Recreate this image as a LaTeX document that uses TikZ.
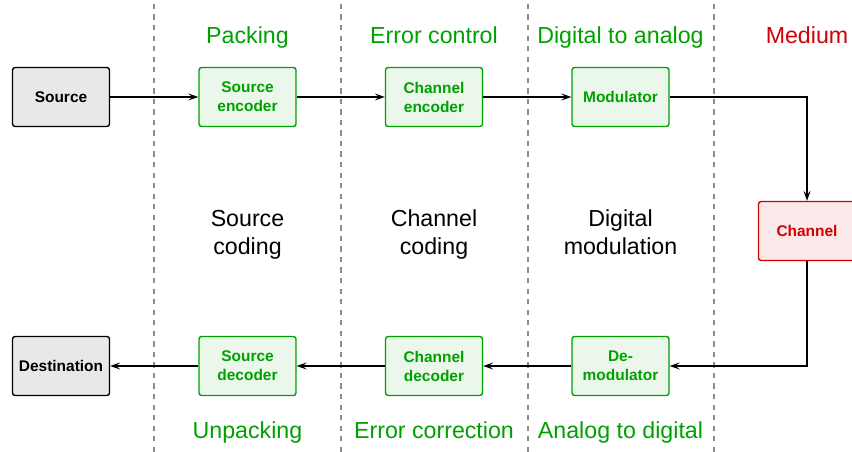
\documentclass[tikz,border=0pt]{standalone}
\usepackage{fontspec}
\setmainfont{Liberation Sans}
\usetikzlibrary{arrows.meta}
\definecolor{blkgreen}{RGB}{0,160,0}
\definecolor{blkred}{RGB}{210,0,0}
\tikzset{
  block/.style={draw, rounded corners=1.5pt, line width=0.8pt, minimum width=1.94cm,
    minimum height=1.18cm, align=center, font=\fontsize{8.8}{10.8}\selectfont\bfseries},
  endblock/.style={block, fill=black!9},
  greenblock/.style={block, draw=blkgreen, fill=blkgreen!8, text=blkgreen},
  redblock/.style={block, draw=blkred, fill=blkred!9, text=blkred},
  caption/.style={font=\fontsize{13.2}{15.9}\selectfont, align=center, text depth=0.28em},
  sep/.style={dashed, black!45, line width=0.6pt},
  flow/.style={line width=0.6pt, -{Stealth[length=2mm,width=1.4mm,inset=0.8mm]}}
}
\begin{document}
\begin{tikzpicture}
  \useasboundingbox (0,0) rectangle (17.04,9.04);
  % stage separators
  \draw[sep] (3.08,0) -- (3.08,9.04);
  \draw[sep] (6.82,0) -- (6.82,9.04);
  \draw[sep] (10.56,0) -- (10.56,9.04);
  \draw[sep] (14.28,0) -- (14.28,9.04);
  % transmitter chain
  \node[endblock] (src) at (1.22,7.1) {Source};
  \node[greenblock] (srcenc) at (4.95,7.1) {Source\\encoder};
  \node[greenblock] (chenc) at (8.68,7.1) {Channel\\encoder};
  \node[greenblock] (mod) at (12.41,7.1) {Modulator};
  % medium
  \node[redblock] (chan) at (16.14,4.42) {Channel};
  % receiver chain
  \node[endblock] (dst) at (1.22,1.72) {Destination};
  \node[greenblock] (srcdec) at (4.95,1.72) {Source\\decoder};
  \node[greenblock] (chdec) at (8.68,1.72) {Channel\\decoder};
  \node[greenblock] (demod) at (12.41,1.72) {De-\\modulator};
  % stage titles
  \node[caption, text=blkgreen] (t1) at (4.95,8.28) {Packing};
  \node[caption, text=blkgreen] (t2) at (8.68,8.28) {Error control};
  \node[caption, text=blkgreen] (t3) at (12.41,8.28) {Digital to analog};
  \node[caption, text=blkred] (t4) at (16.14,8.28) {Medium};
  \node[caption] (m1) at (4.95,4.34) {Source\\coding};
  \node[caption] (m2) at (8.68,4.34) {Channel\\coding};
  \node[caption] (m3) at (12.41,4.34) {Digital\\modulation};
  \node[caption, text=blkgreen] (b1) at (4.95,0.38) {Unpacking};
  \node[caption, text=blkgreen] (b2) at (8.68,0.38) {Error correction};
  \node[caption, text=blkgreen] (b3) at (12.41,0.38) {Analog to digital};
  % signal path
  \draw[flow] (src) -- (srcenc);
  \draw[flow] (srcenc) -- (chenc);
  \draw[flow] (chenc) -- (mod);
  \draw[flow] (mod) -| (chan);
  \draw[flow] (chan) |- (demod);
  \draw[flow] (demod) -- (chdec);
  \draw[flow] (chdec) -- (srcdec);
  \draw[flow] (srcdec) -- (dst);
\end{tikzpicture}
\end{document}
